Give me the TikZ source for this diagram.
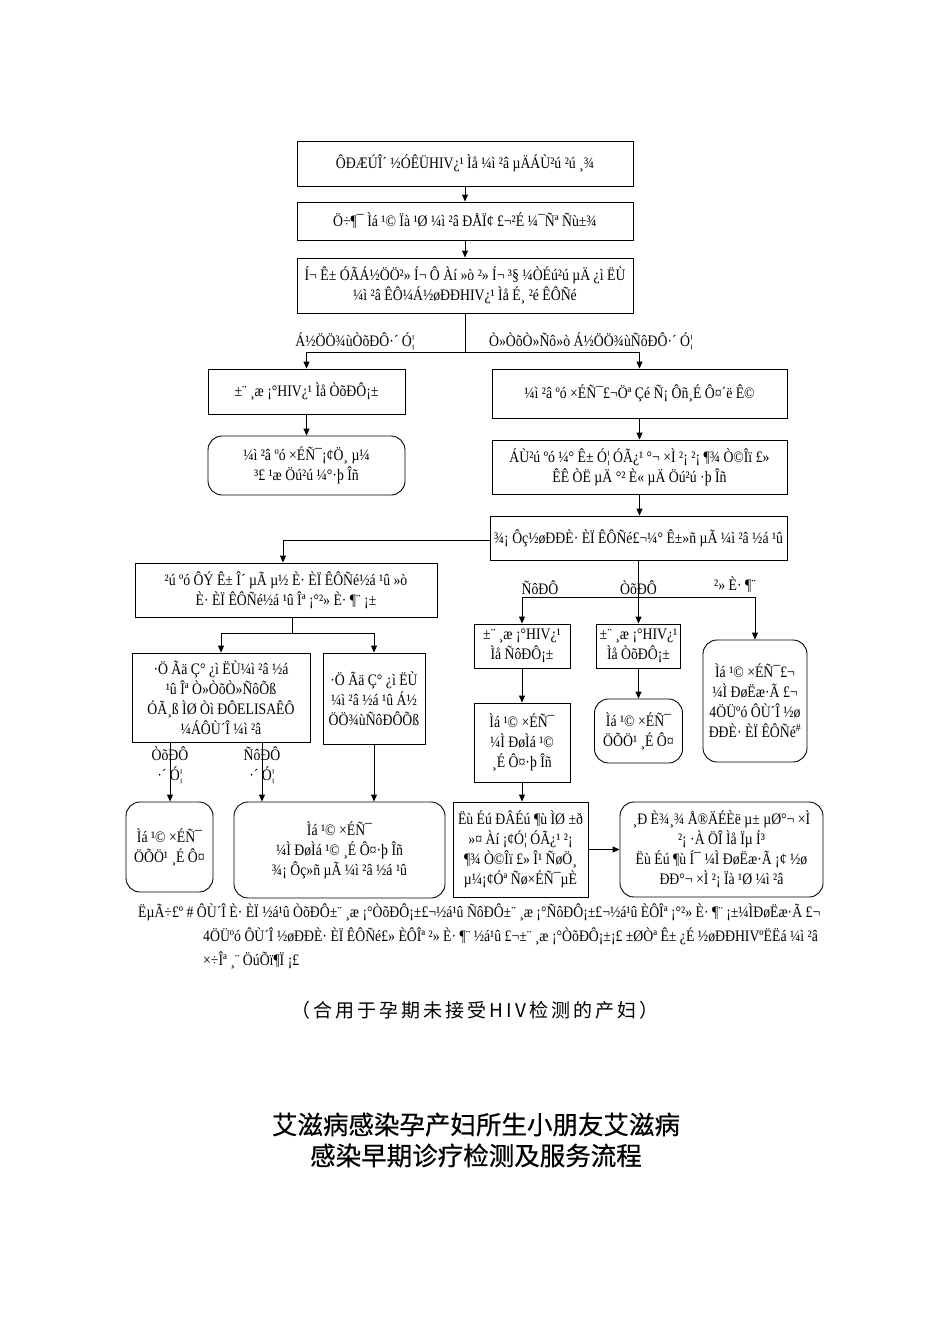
\documentclass[tikz,border=0pt]{standalone}
\usepackage{fontspec}
\setmainfont{Liberation Serif}[FakeStretch=0.86]
\newfontfamily\cjkf{Noto Sans CJK SC}
\newfontfamily\cjkt{Noto Sans CJK SC}[FakeBold=0.6]
\usetikzlibrary{arrows.meta}
\newcommand\fs{\fontsize{16}{20}\selectfont}
\begin{document}
\begin{tikzpicture}[x=1pt,y=-1pt,
 box/.style={draw, line width=0.9pt, inner sep=0pt, align=center, font=\fs},
 rbox/.style={box, rounded corners=14pt},
 lab/.style={inner sep=1pt, align=center, font=\fs},
 arr/.style={-{Triangle[length=7pt,width=6pt]}, line width=0.9pt},
 ln/.style={line width=0.9pt}]
\fill[white] (0,0) rectangle (950,1344);
\useasboundingbox (0,0) rectangle (950,1344);

% top column
\node[box, minimum width=336pt, minimum height=45pt] (b1) at (465,163.5) {ÔÐÆÚÎ´ ½ÓÊÜHIV¿¹ Ìå ¼ì ²â µÄÁÙ²ú ²ú ¸¾};
\node[box, minimum width=336pt, minimum height=38pt] (b2) at (465,221) {Ö÷¶¯ Ìá ¹© Ïà ¹Ø ¼ì ²â ÐÅÏ¢ £¬²É ¼¯Ñª Ñù±¾};
\node[box, minimum width=336pt, minimum height=55pt] (b3) at (465,285.5) {Í¬ Ê± ÓÃÁ½ÖÖ²» Í¬ Ô Àí »ò ²» Í¬ ³§ ¼ÒÉú²ú µÄ ¿ì ËÙ\\¼ì ²â ÊÔ¼Á½øÐÐHIV¿¹ Ìå É¸ ²é ÊÔÑé};
\draw[arr] (b1.south) -- (b2.north);
\draw[arr] (b2.south) -- (b3.north);

% first split
\node[box, minimum width=197pt, minimum height=45pt] (la) at (306.5,391.5) {±¨ ¸æ ¡°HIV¿¹ Ìå ÒõÐÔ¡±};
\node[rbox, minimum width=197pt, minimum height=59pt] (lb) at (306.5,465.5) {¼ì ²â ºó ×ÉÑ¯¡¢Ö¸ µ¼\\³£ ¹æ Öú²ú ¼°·þ Îñ};
\node[box, minimum width=295pt, minimum height=49pt] (ra) at (639.5,393.5) {¼ì ²â ºó ×ÉÑ¯£¬Öª Çé Ñ¡ Ôñ¸É Ô¤´ë Ê©};
\node[box, minimum width=295pt, minimum height=54pt] (rb) at (639.5,467) {ÁÙ²ú ºó ¼° Ê± Ó¦ ÓÃ¿¹ °¬ ×Ì ²¡ ²¡ ¶¾ Ò©Îï £»\\ÊÊ ÒË µÄ °² È« µÄ Öú²ú ·þ Îñ};
\coordinate (s1) at (465,352);
\draw[ln] (b3.south) -- (s1);
\draw[arr] (s1) -| (la.north);
\draw[arr] (s1) -| (ra.north);
\node[lab] (l1) at (355,341) {Á½ÖÖ¾ùÒõÐÔ·´ Ó¦};
\node[lab] (l2) at (591,341) {Ò»ÒõÒ»Ñô»ò Á½ÖÖ¾ùÑôÐÔ·´ Ó¦};
\draw[arr] (la.south) -- (lb.north);
\draw[arr] (ra.south) -- (rb.north);

% confirmation
\node[box, minimum width=297pt, minimum height=44pt] (w) at (638.5,538) {¾¡ Ôç½øÐÐÈ· ÈÏ ÊÔÑé£¬¼° Ê±»ñ µÃ ¼ì ²â ½á ¹û};
\draw[arr] (rb.south) -- (rb.south |- w.north);

% left branch
\node[box, minimum width=302pt, minimum height=54pt] (lc) at (286,590) {²ú ºó ÔÝ Ê± Î´ µÃ µ½ È· ÈÏ ÊÔÑé½á ¹û »ò\\È· ÈÏ ÊÔÑé½á ¹û Îª ¡°²» È· ¶¨ ¡±};
\coordinate (lcin) at (283,540);
\draw[arr] (w.west |- lcin) -| (lc.north -| lcin);
\node[box, minimum width=178pt, minimum height=89pt] (ld) at (221,697.5) {·Ö Ãä Ç° ¿ì ËÙ¼ì ²â ½á\\¹û Îª Ò»ÒõÒ»ÑôÕß\\ÓÃ¸ß ÌØ Òì ÐÔELISAÊÔ\\¼ÁÔÙ´Î ¼ì ²â};
\node[box, minimum width=102pt, minimum height=91pt] (le) at (374,698.5) {·Ö Ãä Ç° ¿ì ËÙ\\¼ì ²â ½á ¹û Á½\\ÖÖ¾ùÑôÐÔÕß};
\coordinate (s2) at (292,633);
\draw[ln] (lc.south -| s2) -- (s2);
\draw[arr] (s2) -| (ld.north);
\draw[arr] (s2) -| (le.north);
\node[rbox, minimum width=87pt, minimum height=90pt] (lf) at (169.5,847) {Ìá ¹© ×ÉÑ¯\\ÖÕÖ¹ ¸É Ô¤};
\node[rbox, minimum width=211pt, minimum height=96pt] (lg) at (339.5,850) {Ìá ¹© ×ÉÑ¯\\¼Ì ÐøÌá ¹© ¸É Ô¤·þ Îñ\\¾¡ Ôç»ñ µÃ ¼ì ²â ½á ¹û};
\coordinate (o1) at (170,742);
\coordinate (o2) at (262,742);
\draw[arr] (o1) -- (o1 |- lf.north);
\draw[arr] (o2) -- (o2 |- lg.north);
\draw[arr] (le.south) -- (le.south |- lg.north);
\node[lab] (l3) at (170,765) {ÒõÐÔ\\·´ Ó¦};
\node[lab] (l4) at (262,765) {ÑôÐÔ\\·´ Ó¦};

% right branch
\node[box, minimum width=96pt, minimum height=44pt] (ma) at (522,646) {±¨ ¸æ ¡°HIV¿¹\\Ìå ÑôÐÔ¡±};
\node[box, minimum width=84pt, minimum height=44pt] (mb) at (638.5,646) {±¨ ¸æ ¡°HIV¿¹\\Ìå ÒõÐÔ¡±};
\node[rbox, minimum width=104pt, minimum height=122pt] (mc) at (755,701) {Ìá ¹© ×ÉÑ¯£¬\\¼Ì ÐøËæ·Ã £¬\\4ÖÜºó ÔÙ´Î ½ø\\ÐÐÈ· ÈÏ ÊÔÑé\textsuperscript{\#}};
\coordinate (s3) at (638.5,597);
\draw[arr] (w.south) -- (mb.north);
\draw[arr] (s3) -| (ma.north);
\draw[arr] (s3) -| (mc.north);
\node[lab] (l5) at (540,588) {ÑôÐÔ};
\node[lab] (l6) at (638.5,588) {ÒõÐÔ};
\node[lab] (l7) at (735,585) {²» È· ¶¨};
\node[box, minimum width=96pt, minimum height=79pt] (md) at (522,742.5) {Ìá ¹© ×ÉÑ¯\\¼Ì ÐøÌá ¹©\\¸É Ô¤·þ Îñ};
\node[rbox, minimum width=88pt, minimum height=64pt] (me) at (638.5,731) {Ìá ¹© ×ÉÑ¯\\ÖÕÖ¹ ¸É Ô¤};
\node[box, minimum width=135pt, minimum height=95pt] (mf) at (520.5,849.5) {Ëù Éú ÐÂÉú ¶ù ÌØ ±ð\\»¤ Àí ¡¢Ó¦ ÓÃ¿¹ ²¡\\¶¾ Ò©Îï £» Î¹ ÑøÖ¸\\µ¼¡¢Óª Ñø×ÉÑ¯µÈ};
\node[rbox, minimum width=203pt, minimum height=95pt] (mg) at (721.5,849.5) {¸Ð È¾¸¾ Å®ÄÉÈë µ± µØ°¬ ×Ì\\²¡ ·À ÖÎ Ìå Ïµ Í³\\Ëù Éú ¶ù Í¯ ¼Ì ÐøËæ·Ã ¡¢ ½ø\\ÐÐ°¬ ×Ì ²¡ Ïà ¹Ø ¼ì ²â};
\draw[arr] (ma.south) -- (ma.south |- md.north);
\draw[arr] (mb.south) -- (mb.south |- me.north);
\draw[arr] (md.south) -- (md.south |- mf.north);
\draw[arr] (mf.east) -- (mf.east -| mg.west);

% note
\node[lab, anchor=west] (n1) at (137,912) {ËµÃ÷£º \# ÔÙ´Î È· ÈÏ ½á¹û ÒõÐÔ±¨ ¸æ ¡°ÒõÐÔ¡±£¬½á¹û ÑôÐÔ±¨ ¸æ ¡°ÑôÐÔ¡±£¬½á¹û ÈÔÎª ¡°²» È· ¶¨ ¡±¼ÌÐøËæ·Ã £¬};
\node[lab, anchor=west] (n2) at (202,936) {4ÖÜºó ÔÙ´Î ½øÐÐÈ· ÈÏ ÊÔÑé£» ÈÔÎª ²» È· ¶¨ ½á¹û £¬±¨ ¸æ ¡°ÒõÐÔ¡±¡£ ±ØÒª Ê± ¿É ½øÐÐHIVºËËá ¼ì ²â};
\node[lab, anchor=west] (n3) at (202,960) {×÷Îª ¸¨ ÖúÕï¶Ï ¡£};

% titles
\node[font=\cjkf\fontsize{19}{22}\selectfont\addfontfeature{LetterSpace=16}, inner sep=0pt] (sub) at (475,1010) {（合用于孕期未接受HIV检测的产妇）};
\node[font=\cjkt\fontsize{25.5}{31}\selectfont, align=center, inner sep=0pt] (title) at (476,1140) {艾滋病感染孕产妇所生小朋友艾滋病\\感染早期诊疗检测及服务流程};
\end{tikzpicture}
\end{document}
